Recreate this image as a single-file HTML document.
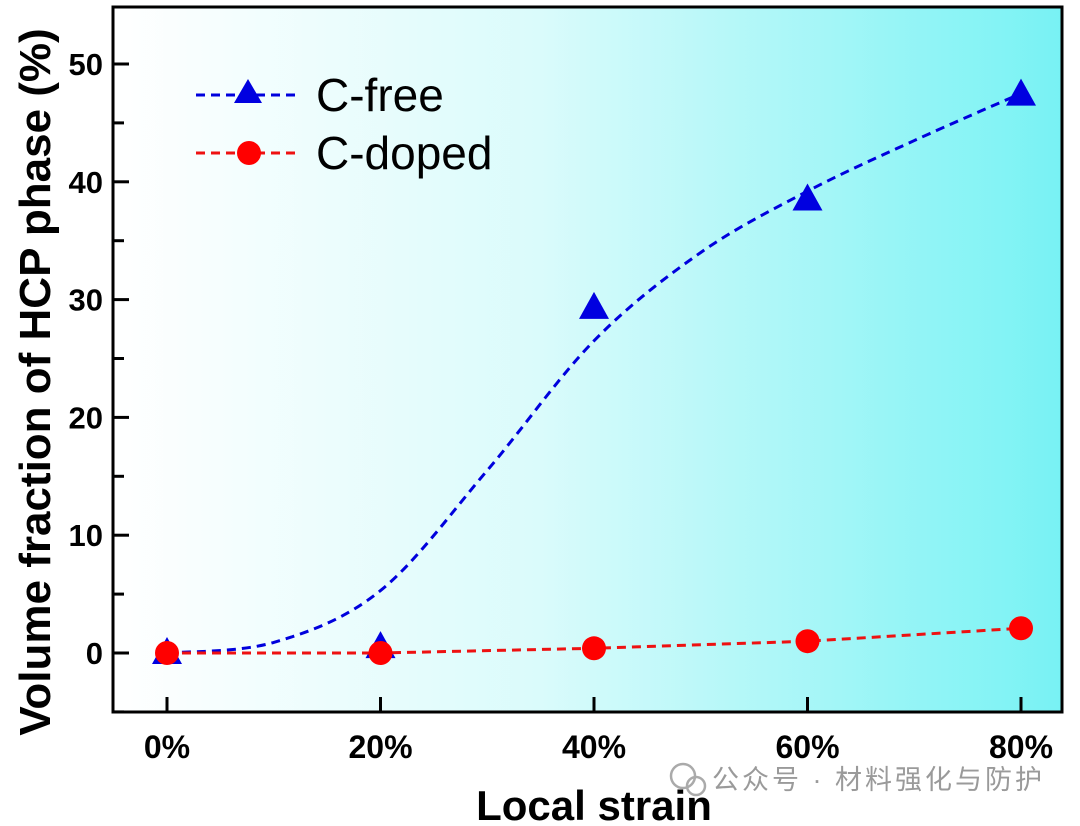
<!DOCTYPE html>
<html><head><meta charset="utf-8"><style>
html,body{margin:0;padding:0;background:#fff;width:1080px;height:826px;overflow:hidden}
text{font-family:"Liberation Sans","Noto Sans CJK SC",sans-serif}
</style></head><body>
<svg id="chart" width="1080" height="826" xmlns="http://www.w3.org/2000/svg">
<defs>
<linearGradient id="bg" x1="0" x2="1" y1="0" y2="0">
<stop offset="0" stop-color="#ffffff"/><stop offset="0.45" stop-color="#dafbfb"/><stop offset="1" stop-color="#78f2f4"/>
</linearGradient>
</defs>
<rect x="113" y="7" width="949" height="705" fill="url(#bg)"/>
<g id="axes"></g>
<g id="series"></g>
<rect x="113" y="7" width="949" height="705" fill="none" stroke="#000" stroke-width="3"/>
<g>
<line x1="196" y1="95" x2="295" y2="95" stroke="#0000dd" stroke-width="3" stroke-dasharray="9,6"/>
<polygon points="248,79 234,103 262,103" fill="#0000e0"/>
<text x="316" y="111" font-size="46" fill="#000">C-free</text>
<line x1="196" y1="153" x2="295" y2="153" stroke="#ee1111" stroke-width="3" stroke-dasharray="9,6"/>
<circle cx="249" cy="153" r="12" fill="#ff0000"/>
<text x="316" y="169" font-size="46" fill="#000">C-doped</text>
</g>
<text transform="translate(50,382) rotate(-90)" text-anchor="middle" font-size="44" font-weight="bold">Volume fraction of HCP phase (%)</text>
<text x="594" y="820" text-anchor="middle" font-size="42" font-weight="bold">Local strain</text>
<text x="712" y="789" font-size="27" letter-spacing="3" fill="#9a9a9a">公众号 · 材料强化与防护</text>
<g><circle cx="683" cy="776" r="12" fill="none" stroke="#aaa" stroke-width="2.5"/><circle cx="696" cy="786" r="9" fill="none" stroke="#aaa" stroke-width="2.5"/></g>
</svg>
<script>
const categories=["0%","20%","40%","60%","80%"];
const strainValues=[0,20,40,60,80];
const cFree=[0,0.5,29.3,38.5,47.4];
const cDoped=[0,0,0.4,1.0,2.1];
const fitX=[0,10,20,30,40,50,60,70,80];
const fitCFree=[0,0.9,5.3,15.5,26.5,34,39.2,43.5,47.5];
const yTicks=[0,10,20,30,40,50];
const yMinor=[-5,5,15,25,35,45];
const NS="http://www.w3.org/2000/svg";
const xs=v=>167+(v/20)*213.5;
const ys=v=>653-v*11.78;
const axes=document.getElementById('axes'),ser=document.getElementById('series');
function mk(tag,attrs,parent){const e=document.createElementNS(NS,tag);for(const k in attrs)e.setAttribute(k,attrs[k]);parent.appendChild(e);return e;}
yTicks.forEach(t=>{
  const l=mk('line',{x1:113,x2:129,y1:ys(t),y2:ys(t),stroke:'#000','stroke-width':3},axes);
  
  
  const tx=mk('text',{x:103,y:ys(t)+11,'text-anchor':'end','font-size':31,'font-weight':'bold'},axes);
  tx.textContent=t;
  
  
});
yMinor.forEach(t=>{
  const l=mk('line',{x1:113,x2:124,y1:ys(t),y2:ys(t),stroke:'#000','stroke-width':3},axes);
  
  
});
strainValues.forEach((v,i)=>{
  const l=mk('line',{x1:xs(v),x2:xs(v),y1:712,y2:697,stroke:'#000','stroke-width':3},axes);
  
  
  const tx=mk('text',{x:xs(v),y:758,'text-anchor':'middle','font-size':32,'font-weight':'bold'},axes);
  tx.textContent=categories[i];
  
  
});
const pts=fitX.map((x,i)=>[xs(x),ys(fitCFree[i])]);
let d=`M${pts[0][0]},${pts[0][1]}`;
for(let i=0;i<pts.length-1;i++){const p0=pts[Math.max(0,i-1)],p1=pts[i],p2=pts[i+1],p3=pts[Math.min(pts.length-1,i+2)];
d+=` C${p1[0]+(p2[0]-p0[0])/6},${p1[1]+(p2[1]-p0[1])/6} ${p2[0]-(p3[0]-p1[0])/6},${p2[1]-(p3[1]-p1[1])/6} ${p2[0]},${p2[1]}`;}
const fc=mk('path',{d:d,fill:'none',stroke:'#0000dd','stroke-width':3,'stroke-dasharray':'9,6'},ser);


cFree.forEach((v,i)=>{const x=xs(strainValues[i]),y=ys(v);
  const t=mk('polygon',{points:`${x},${y-16} ${x-15},${y+11} ${x+15},${y+11}`,fill:'#0000e0'},ser);
  
  
});
const rd=mk('polyline',{points:cDoped.map((v,i)=>xs(strainValues[i])+','+ys(v)).join(' '),fill:'none',stroke:'#ee1111','stroke-width':3,'stroke-dasharray':'9,6'},ser);


cDoped.forEach((v,i)=>{
  const c=mk('circle',{cx:xs(strainValues[i]),cy:ys(v),r:12,fill:'#ff0000'},ser);
  
  
});
</script>
</body></html>
